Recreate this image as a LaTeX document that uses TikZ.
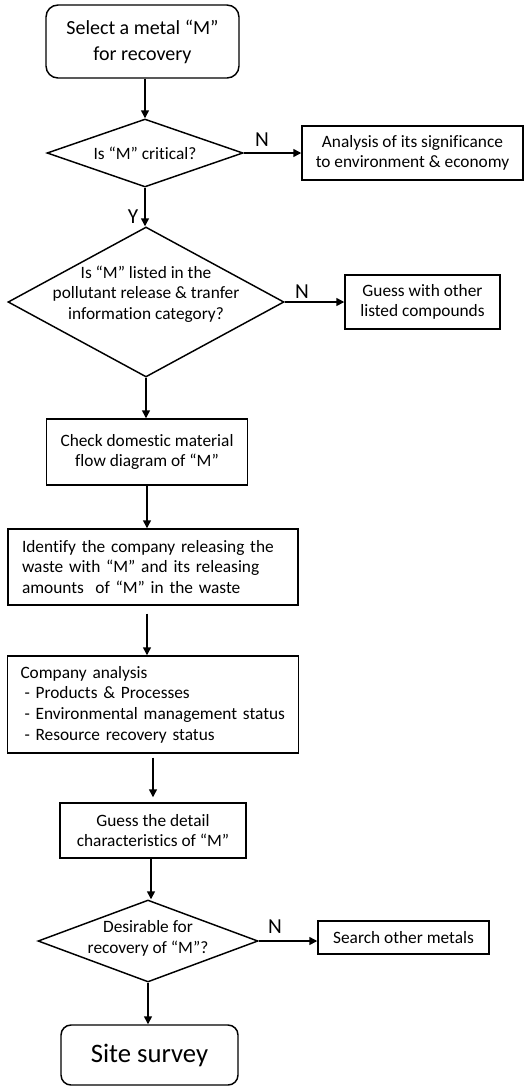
\documentclass[tikz,border=0pt]{standalone}
\usepackage{fontspec}
\setmainfont{Carlito}[Ligatures={NoCommon}]
\usetikzlibrary{shapes.geometric,arrows.meta}
\begin{document}
\begin{tikzpicture}[x=0.75pt,y=-0.75pt,
  line width=1.1pt,
  every node/.style={font=\fontsize{13}{15.5}\selectfont},
  box/.style={draw,rectangle,align=center,inner sep=0pt},
  lbox/.style={draw,rectangle,align=left,inner ysep=0pt},
  rbox/.style={draw,rectangle,rounded corners=9pt,align=center,inner sep=0pt},
  dia/.style={draw,diamond,inner sep=0pt},
  arr/.style={-{Triangle[length=6pt,width=6pt]}},
  yn/.style={font=\fontsize{16}{18}\selectfont,inner sep=0pt}]
\useasboundingbox (0,0) rectangle (525,1086);

\node[rbox,minimum width=144.75pt,minimum height=54.75pt,font=\fontsize{15}{19.5}\selectfont] (start) at (142.5,41.5) {Select a metal “M”\\for recovery};

\node[dia,minimum width=147pt,minimum height=51pt] (q1) at (145,153) {};
\node (q1t) at (145,153) {Is “M” critical?};
\node[box,minimum width=165.75pt,minimum height=40.5pt] (a1) at (412.5,153) {Analysis of its significance\\to environment \& economy};

\node[dia,minimum width=207pt,minimum height=112.5pt] (q2) at (146,302) {};
\node (q2t) at (146,294) [align=center] {Is “M” listed in the\\pollutant release \& tranfer\\information category?};
\node[box,minimum width=116.25pt,minimum height=40.5pt] (a2) at (422.5,302) {Guess with other\\listed compounds};

\node[box,minimum width=150.75pt,minimum height=49.5pt] (b1) at (147,452) {Check domestic material\\flow diagram of “M”};

\node[lbox,minimum width=217.5pt,minimum height=57pt,text width=196.5pt,inner xsep=10.5pt] (b2) at (153,567) {Identify the company releasing the\\waste with “M” and its releasing\\amounts\ \ of “M” in the waste};

\node[lbox,minimum width=218.25pt,minimum height=72.75pt,text width=198.75pt,inner xsep=9.75pt] (b3) at (153,704.5) {Company analysis\\\hspace*{3pt}- Products \& Processes\\\hspace*{3pt}- Environmental management status\\\hspace*{3pt}- Resource recovery status};

\node[box,minimum width=139.5pt,minimum height=41.25pt] (b4) at (153,830.5) {Guess the detail\\characteristics of “M”};

\node[dia,minimum width=165pt,minimum height=61.5pt] (q3) at (148,941) {};
\node (q3t) at (148,938.5) [align=center] {Desirable for\\recovery of “M”?};
\node[box,minimum width=128.25pt,minimum height=24.75pt] (a3) at (403.5,937.5) {Search other metals};

\node[rbox,rounded corners=7.5pt,minimum width=132.75pt,minimum height=45pt,font=\fontsize{20}{24}\selectfont] (end) at (149.5,1055) {Site survey};

% connectors
\draw[arr] (q1.north |- start.south) -- (q1.north);
\draw[arr] (q1.east) -- (a1.west);
\draw[arr] (q1.south) -- (q1.south |- q2.north);
\draw[arr] (q2.east) -- (a2.west);
\draw[arr] (q2.south) -- (q2.south |- b1.north);
\draw[arr] (b1.south) -- (b1.south |- b2.north);
\draw[arr,shorten <=6pt] ([xshift=-4.5pt]b2.south) -- ([xshift=-4.5pt]b2.south |- b3.north);
\draw[arr,shorten <=3pt,shorten >=3.75pt] (b3.south) -- (b3.south |- b4.north);
\draw[arr] ([xshift=-1.5pt]b4.south) -- ([xshift=-1.5pt]b4.south |- q3.north);
\draw[arr] (q3.east) -- (q3.east -| a3.west);
\draw[arr] (q3.south) -- (q3.south |- end.north);

% labels
\node[yn] (n1) at (262,140) {N};
\node[yn] (y1) at (133,217) {Y};
\node[yn] (n2) at (302,292) {N};
\node[yn] (n3) at (275,927) {N};
\end{tikzpicture}
\end{document}
